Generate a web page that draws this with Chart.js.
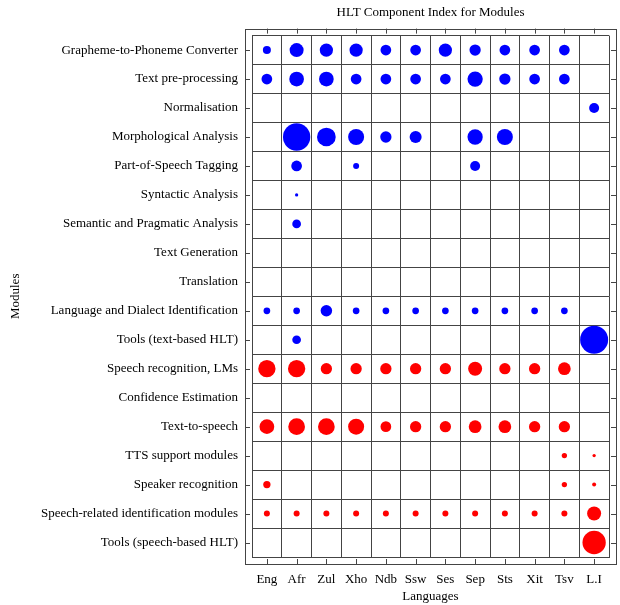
<!DOCTYPE html>
<html>
<head>
<meta charset="utf-8">
<script src="https://cdn.jsdelivr.net/npm/chart.js@4"></script>
<style>
  body { margin: 0; background: #fff; }
</style>
</head>
<body>
<canvas id="chart" width="620" height="605"></canvas>
<script>
// languages on the x axis
const languages = ['Eng', 'Afr', 'Zul', 'Xho', 'Ndb', 'Ssw', 'Ses', 'Sep', 'Sts', 'Xit', 'Tsv', 'L.I'];

// modules on the y axis, top to bottom
const modules = [
  'Grapheme-to-Phoneme Converter',
  'Text pre-processing',
  'Normalisation',
  'Morphological Analysis',
  'Part-of-Speech Tagging',
  'Syntactic Analysis',
  'Semantic and Pragmatic Analysis',
  'Text Generation',
  'Translation',
  'Language and Dialect Identification',
  'Tools (text-based HLT)',
  'Speech recognition, LMs',
  'Confidence Estimation',
  'Text-to-speech',
  'TTS support modules',
  'Speaker recognition',
  'Speech-related identification modules',
  'Tools (speech-based HLT)'
];

// first 11 modules are text based (blue), the rest speech based (red)
const textModuleCount = 11;

// component index per module row, one value per language (null = none)
const _ = null;
const indexValues = [
  [8, 14, 13.3, 13.3, 10.7, 10.7, 13.3, 11.3, 10.7, 10.7, 10.7, _],
  [10.7, 14.7, 14.7, 10.7, 10.7, 10.7, 10.7, 15.3, 11.3, 10.7, 10.7, _],
  [_, _, _, _, _, _, _, _, _, _, _, 10],
  [_, 27.3, 18.7, 16, 11.3, 12, _, 15.3, 16, _, _, _],
  [_, 10.7, _, 6, _, _, _, 10, _, _, _, _],
  [_, 3.3, _, _, _, _, _, _, _, _, _, _],
  [_, 8.7, _, _, _, _, _, _, _, _, _, _],
  [_, _, _, _, _, _, _, _, _, _, _, _],
  [_, _, _, _, _, _, _, _, _, _, _, _],
  [6.7, 6.7, 11.5, 6.7, 6.7, 6.7, 6.7, 6.7, 6.7, 6.7, 6.7, _],
  [_, 8.7, _, _, _, _, _, _, _, _, _, 28],
  [17.3, 17.3, 11.3, 11.3, 11.3, 11.3, 11.3, 14, 11.3, 11.3, 12.7, _],
  [_, _, _, _, _, _, _, _, _, _, _, _],
  [14.7, 16.7, 16.7, 16, 10.7, 11.3, 11.3, 12.7, 12.7, 11.3, 11.3, _],
  [_, _, _, _, _, _, _, _, _, _, 5.3, 3.3],
  [7.3, _, _, _, _, _, _, _, _, _, 5.3, 4],
  [6, 6, 6, 6, 6, 6, 6, 6, 6, 6, 6, 14],
  [_, _, _, _, _, _, _, _, _, _, _, 23.3]
];

const textPoints = [];
const speechPoints = [];
indexValues.forEach((row, i) => {
  row.forEach((v, j) => {
    if (v === null) return;
    const p = { x: languages[j], y: modules[i], r: v / 2 };
    (i < textModuleCount ? textPoints : speechPoints).push(p);
  });
});

const serif = 'Liberation Serif';
const lineColor = '#444';

// lattice style outer frame with inward ticks
const framePlugin = {
  id: 'frame',
  afterDraw(chart) {
    const ctx = chart.ctx;
    const a = chart.chartArea;
    const xs = chart.scales.x, ys = chart.scales.y;
    const gap = 7;
    const L = a.left - gap, R = a.right + gap, T = a.top - gap, B = a.bottom + gap;
    ctx.save();
    ctx.strokeStyle = lineColor;
    ctx.lineWidth = 1;
    ctx.strokeRect(Math.round(L) + 0.5, Math.round(T) + 0.5, Math.round(R - L), Math.round(B - T));
    ctx.beginPath();
    languages.forEach((l, i) => {
      const x = Math.round(xs.getPixelForValue(i)) + 0.5;
      ctx.moveTo(x, T); ctx.lineTo(x, T + 5);
      ctx.moveTo(x, B); ctx.lineTo(x, B - 5);
    });
    modules.forEach((m, i) => {
      const y = Math.round(ys.getPixelForValue(i)) + 0.5;
      ctx.moveTo(L, y); ctx.lineTo(L + 5, y);
      ctx.moveTo(R, y); ctx.lineTo(R - 5, y);
    });
    ctx.stroke();
    ctx.restore();
  }
};

new Chart(document.getElementById('chart'), {
  type: 'bubble',
  data: {
    datasets: [
      { label: 'Text', data: textPoints, backgroundColor: '#0000ff', borderWidth: 0, clip: false },
      { label: 'Speech', data: speechPoints, backgroundColor: '#ff0000', borderWidth: 0, clip: false }
    ]
  },
  options: {
    responsive: false,
    animation: false,
    layout: { autoPadding: false, padding: { left: 0, right: 11, top: 0, bottom: 0 } },
    plugins: {
      legend: { display: false },
      tooltip: { enabled: false },
      title: {
        display: true,
        text: 'HLT Component Index for Modules',
        color: '#000',
        font: { family: serif, size: 13, weight: 'normal' },
        padding: { top: 5, bottom: 15 },
        fullSize: false
      }
    },
    scales: {
      x: {
        type: 'category',
        labels: languages,
        offset: true,
        grid: { offset: true, color: lineColor, drawTicks: false },
        border: { color: lineColor },
        ticks: { padding: 15, color: '#000', font: { family: serif, size: 13 } },
        title: {
          display: true, text: 'Languages', color: '#000',
          font: { family: serif, size: 13 }, padding: { top: 0, bottom: 1 }
        },
        afterFit(s) { s.height = 48; s.paddingLeft = 0; s.paddingRight = 0; }
      },
      y: {
        type: 'category',
        labels: modules,
        offset: true,
        grid: { offset: true, color: lineColor, drawTicks: false },
        border: { color: lineColor },
        ticks: { padding: 14, color: '#000', font: { family: serif, size: 13 } },
        title: {
          display: true, text: 'Modules', color: '#000',
          font: { family: serif, size: 13 }, padding: { top: 8, bottom: 0 }
        },
        afterFit(s) { s.width = 252; s.paddingTop = 0; s.paddingBottom = 0; }
      }
    }
  },
  plugins: [framePlugin]
});
</script>
</body>
</html>
